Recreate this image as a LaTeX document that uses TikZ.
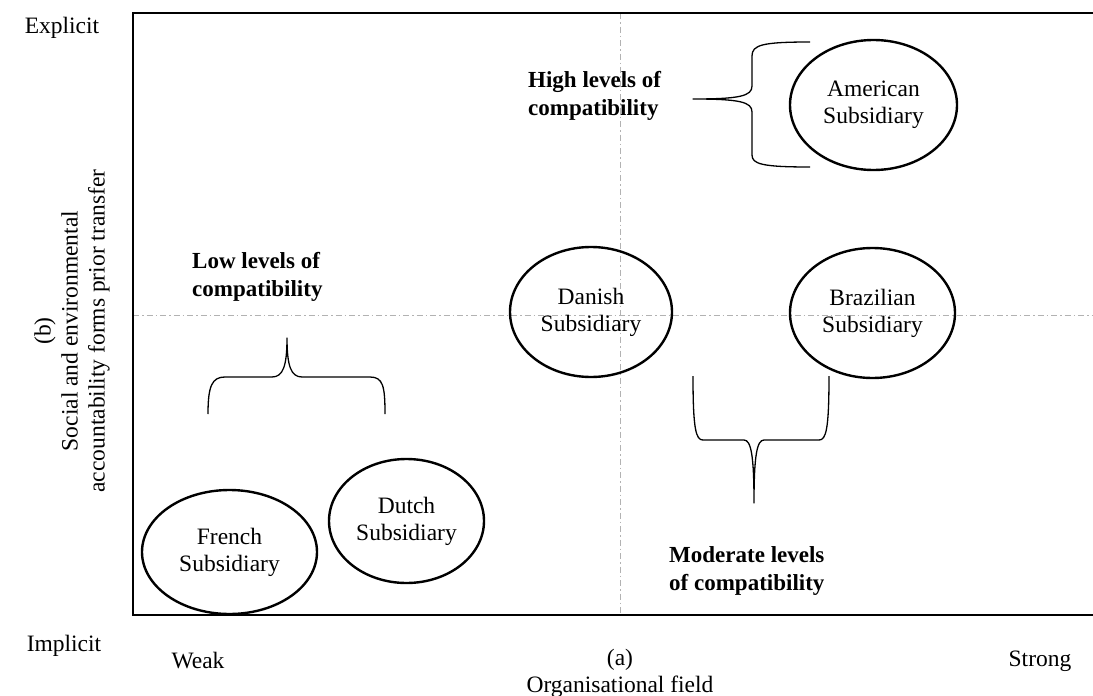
\documentclass[tikz,border=0pt]{standalone}
\usepackage{fontspec}
\setmainfont{Liberation Serif}
\usetikzlibrary{shapes.geometric}
\begin{document}
\begin{tikzpicture}[x=1pt,y=-1pt,
  lbl/.style={font=\fontsize{23.5}{27}\selectfont, inner sep=0pt, align=center},
  boldlbl/.style={font=\fontsize{23}{28}\selectfont\bfseries, inner sep=0pt, align=left, anchor=west},
  subsid/.style={draw, line width=2.4pt, ellipse, inner sep=0pt,
    font=\fontsize{23.5}{27}\selectfont, align=center},
  grid/.style={gray!60, line width=0.8pt, dash pattern=on 6pt off 3pt on 1.5pt off 3pt},
  bracefig/.style={line width=1.3pt, line join=round}
]
\useasboundingbox (0,0) rectangle (1093,696);
\begin{scope}
  \clip (0,0) rectangle (1093,696);
  % quadrant dividers
  \draw[grid] (620,13) -- (620,615);
  \draw[grid] (133,315) -- (1093,315);
  % frame of the matrix (right edge runs past the page)
  \draw[line width=2.8pt] (1110,13) -- (133,13) -- (133,615) -- (1110,615);
\end{scope}

% subsidiaries
\node[subsid, minimum width=167, minimum height=130] (american) at (873.5,105) {American\\Subsidiary};
\node[subsid, minimum width=162, minimum height=130] (danish) at (591,312) {Danish\\Subsidiary};
\node[subsid, minimum width=165, minimum height=130] (brazilian) at (872.5,313) {Brazilian\\Subsidiary};
\node[subsid, minimum width=155, minimum height=124] (dutch) at (406.5,521) {Dutch\\Subsidiary};
\node[subsid, minimum width=175, minimum height=124] (french) at (229.5,552) {French\\Subsidiary};

% braces
\draw[bracefig] (810,42) .. controls (762,42) and (752,45) .. (752,56) -- (752,86)
  .. controls (752,96) and (740,99) .. (693,99)
  .. controls (740,99) and (752,102) .. (752,112) -- (752,155)
  .. controls (752,164) and (762,167) .. (810,167);
\draw[bracefig] (208,414) .. controls (208,386) and (212,377) .. (225,377) -- (272,377)
  .. controls (283,377) and (287,366) .. (287,338)
  .. controls (287,366) and (291,377) .. (302,377) -- (370,377)
  .. controls (383,377) and (385,386) .. (385,414);
\draw[bracefig] (693,376) .. controls (693,430) and (696,440) .. (703,440) -- (744,440)
  .. controls (751,440) and (754,455) .. (754,503)
  .. controls (754,455) and (757,440) .. (764,440) -- (819,440)
  .. controls (826,440) and (829,430) .. (829,376);

% compatibility labels
\node[boldlbl] (high) at (528,96) {High levels of\\compatibility};
\node[boldlbl] (low) at (192,277) {Low levels of\\compatibility};
\node[boldlbl] (moderate) at (669,571) {Moderate levels\\of compatibility};

% axis labels
\node[lbl] (explicit) at (62,28) {Explicit};
\node[lbl] (implicit) at (64,646) {Implicit};
\node[lbl] (weak) at (198,661) {Weak};
\node[lbl] (strong) at (1040,661) {Strong};
\node[lbl] (xaxis) at (620,673) {(a)\\Organisational field};
\node[lbl, rotate=90] (yaxis) at (72,331) {(b)\\Social and environmental\\accountability forms prior transfer};
\end{tikzpicture}
\end{document}
